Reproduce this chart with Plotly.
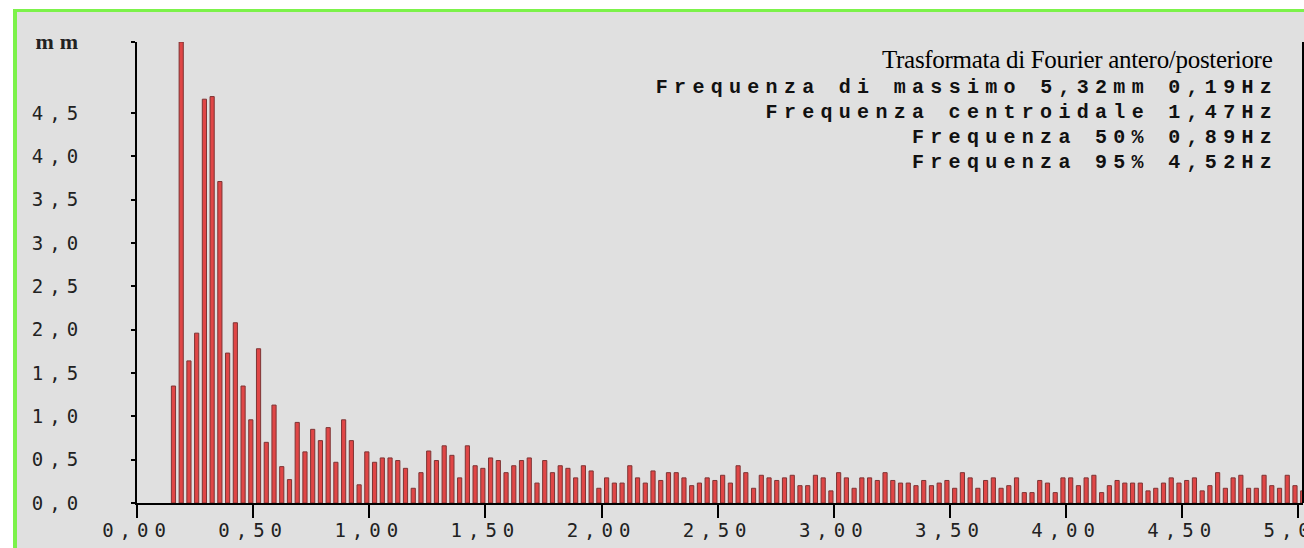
import plotly.graph_objects as go

# Spectrum of the antero/posterior sway: amplitude (mm) for each frequency bin
AMPLITUDE_MM = [
    1.35, 5.32, 1.64, 1.96, 4.66, 4.69, 3.71, 1.73, 2.08, 1.35,
    0.96, 1.78, 0.70, 1.13, 0.42, 0.27, 0.93, 0.59, 0.85, 0.72,
    0.87, 0.47, 0.96, 0.72, 0.21, 0.59, 0.47, 0.52, 0.52, 0.49,
    0.40, 0.17, 0.35, 0.60, 0.49, 0.66, 0.55, 0.29, 0.66, 0.43,
    0.40, 0.52, 0.49, 0.35, 0.43, 0.49, 0.52, 0.23, 0.49, 0.35,
    0.43, 0.40, 0.29, 0.43, 0.37, 0.17, 0.29, 0.23, 0.23, 0.43,
    0.29, 0.23, 0.37, 0.26, 0.35, 0.35, 0.29, 0.20, 0.23, 0.29,
    0.26, 0.32, 0.23, 0.43, 0.35, 0.17, 0.32, 0.29, 0.26, 0.29,
    0.32, 0.20, 0.20, 0.32, 0.29, 0.14, 0.35, 0.29, 0.17, 0.29,
    0.29, 0.26, 0.35, 0.26, 0.23, 0.23, 0.20, 0.26, 0.20, 0.23,
    0.26, 0.17, 0.35, 0.29, 0.17, 0.26, 0.29, 0.17, 0.20, 0.29,
    0.12, 0.12, 0.26, 0.23, 0.12, 0.29, 0.29, 0.20, 0.29, 0.32,
    0.12, 0.20, 0.26, 0.23, 0.23, 0.23, 0.14, 0.17, 0.23, 0.29,
    0.23, 0.26, 0.29, 0.14, 0.20, 0.35, 0.17, 0.29, 0.32, 0.17,
    0.17, 0.32, 0.20, 0.17, 0.32, 0.20, 0.14,
]

# Frequency grid of the transform (Hz): first bin and bin width
F0_HZ = 0.157
DF_HZ = 0.0333
FREQ_HZ = [round(F0_HZ + i * DF_HZ, 4) for i in range(len(AMPLITUDE_MM))]

# Summary values printed in the header
PEAK_MM = 5.32
PEAK_HZ = 0.19
CENTROID_HZ = 1.47
F50_HZ = 0.89
F95_HZ = 4.52

Y_TICKS = [0.0, 0.5, 1.0, 1.5, 2.0, 2.5, 3.0, 3.5, 4.0, 4.5, PEAK_MM]
Y_LABELS = ["0,0", "0,5", "1,0", "1,5", "2,0", "2,5", "3,0", "3,5", "4,0", "4,5",
            "<span style='font-family:Liberation Serif;font-weight:bold;"
            "font-size:22px'>mm</span>"]
X_TICKS = [0.0, 0.5, 1.0, 1.5, 2.0, 2.5, 3.0, 3.5, 4.0, 4.5, 5.0]
X_LABELS = ["0,00", "0,50", "1,00", "1,50", "2,00", "2,50",
            "3,00", "3,50", "4,00", "4,50", "5,00"]


def it(v, nd=2):
    return f"{v:.{nd}f}".replace(".", ",")


HEADER_TITLE = "Trasformata di Fourier antero/posteriore"
HEADER_LINES = [
    f"Frequenza di massimo {it(PEAK_MM)}mm {it(PEAK_HZ)}Hz",
    f"Frequenza centroidale {it(CENTROID_HZ)}Hz",
    f"Frequenza 50% {it(F50_HZ)}Hz",
    f"Frequenza 95% {it(F95_HZ)}Hz",
]

W, H = 1304, 548
ML, MR, MT, MB = 137, 1, 42, 45
PW, PH = W - ML - MR, H - MT - MB


def px_x(px):
    return (px - ML) / PW


def px_y(py):
    return (H - MB - py) / PH


fig = go.Figure()
fig.add_trace(go.Bar(
    x=FREQ_HZ,
    y=AMPLITUDE_MM,
    width=0.018,
    marker=dict(color="#e04646", line=dict(color="#7e3434", width=1)),
    hoverinfo="x+y",
))

GRAY = "#e0e0e0"
GREEN = "#7cf24a"

shapes = [
    # white page margin outside the green frame
    dict(type="rect", xref="paper", yref="paper", x0=px_x(0), x1=px_x(13),
         y0=px_y(H), y1=px_y(0), fillcolor="white", line_width=0, layer="below"),
    dict(type="rect", xref="paper", yref="paper", x0=px_x(0), x1=px_x(W),
         y0=px_y(9), y1=px_y(0), fillcolor="white", line_width=0, layer="below"),
    # green frame on the left and top
    dict(type="line", xref="paper", yref="paper", x0=px_x(15), x1=px_x(15),
         y0=px_y(H), y1=px_y(9), line=dict(color=GREEN, width=4)),
    dict(type="line", xref="paper", yref="paper", x0=px_x(13), x1=px_x(W),
         y0=px_y(10.5), y1=px_y(10.5), line=dict(color=GREEN, width=3)),
    # right border of the plotting frame
    dict(type="line", xref="paper", yref="paper", x0=1, x1=1, y0=0, y1=1,
         line=dict(color="black", width=2)),
]

annotations = [
    dict(text=HEADER_TITLE, xref="paper", yref="paper", x=px_x(1274), y=px_y(60),
         xanchor="right", yanchor="middle", align="right", showarrow=False,
         font=dict(family="Liberation Serif", size=25, color="black")),
]
for i, line in enumerate(HEADER_LINES):
    annotations.append(dict(
        text=line, xref="paper", yref="paper", x=px_x(1274), y=px_y(87.5 + 25 * i),
        xanchor="right", yanchor="middle", align="right", showarrow=False, xshift=6,
        font=dict(family="Liberation Mono", size=20, color="#111111", weight="bold"),
    ))

fig.update_layout(
    width=W, height=H,
    margin=dict(l=ML, r=MR, t=MT, b=MB, pad=0, autoexpand=False),
    paper_bgcolor=GRAY,
    plot_bgcolor=GRAY,
    showlegend=False,
    shapes=shapes,
    annotations=annotations,
    xaxis=dict(
        range=[0, 5.02], tickvals=X_TICKS, ticktext=X_LABELS, automargin=False,
        showgrid=False, zeroline=False, showline=True, linecolor="black", linewidth=2,
        ticks="outside", ticklen=13, tickwidth=2, tickcolor="black",
        tickfont=dict(family="DejaVu Sans Mono", size=19, color="#222222"),
        ticklabelstandoff=-4, ticklabeloverflow="allow",
    ),
    yaxis=dict(
        range=[0, PEAK_MM], tickvals=Y_TICKS, ticktext=Y_LABELS, automargin=False,
        showgrid=False, zeroline=False, showline=True, linecolor="black", linewidth=2,
        ticks="outside", ticklen=4, tickwidth=2, tickcolor="black",
        tickfont=dict(family="DejaVu Sans Mono", size=19, color="#222222"),
        ticklabelstandoff=43,
    ),
)

# Wide letter spacing for the tick labels and the header lines
SPACING_JS = """
var gd = document.getElementById('{plot_id}');
function applySpacing() {
  gd.querySelectorAll('.xtick text, .ytick text').forEach(function (t) {
    t.style.letterSpacing = '6px';
  });
  gd.querySelectorAll('g.annotation').forEach(function (g) {
    var idx = +g.getAttribute('data-index');
    var t = g.querySelector('text');
    if (t) { t.style.letterSpacing = idx === 0 ? '-0.3px' : '6.3px'; }
  });
}
applySpacing();
gd.on('plotly_afterplot', applySpacing);
"""

fig.write_html("out.html", post_script=SPACING_JS)
